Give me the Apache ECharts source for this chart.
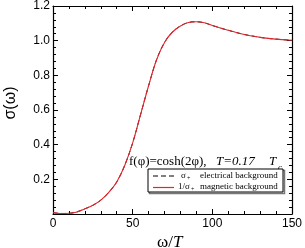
<!DOCTYPE html>
<html><head><meta charset="utf-8">
<script src="https://cdn.jsdelivr.net/npm/echarts@6/dist/echarts.min.js"></script>
<style>html,body{margin:0;padding:0;background:#fff}#c{width:305px;height:248px}</style>
</head><body><div id="c"></div>
<script>
var omega = [0,5,10,15,20,25,30,35,40,45,50,55,60,65,70,75,80,85,90,95,100,105,110,115,120,125,130,135,140,145,150];
var sigmaElectric = [0.008,0.003,0.004,0.012,0.03,0.05,0.08,0.125,0.185,0.28,0.41,0.575,0.74,0.89,0.99,1.05,1.085,1.105,1.109,1.103,1.088,1.073,1.06,1.047,1.036,1.027,1.019,1.013,1.009,1.005,1.002];
var sigmaMagnetic = [0.008,0.003,0.004,0.012,0.03,0.05,0.08,0.125,0.185,0.28,0.41,0.575,0.74,0.89,0.99,1.05,1.085,1.105,1.109,1.103,1.088,1.073,1.06,1.047,1.036,1.027,1.019,1.013,1.009,1.005,1.002];
var xTicks = [0,50,100,150];
var yTicks = [0.2,0.4,0.6,0.8,1.0,1.2];
var seriesNames = ['σ+ electrical background','1/σ+ magnetic background'];

function pairs(xs, ys){ return xs.map(function(x,i){return [x, ys[i]];}); }
var sans = 'Liberation Sans, Arial, sans-serif';
var serif = 'Liberation Serif, Times New Roman, serif';
var tickStyle = {show:true, inside:true, length:5, lineStyle:{color:'#000', width:1}};
var minorStyle = {show:true, splitNumber:5, length:3, lineStyle:{color:'#000', width:1}};
var axLine = {show:true, onZero:false, lineStyle:{color:'#000', width:1.2}};

var chart = echarts.init(document.getElementById('c'), null, {renderer:'canvas'});
chart.setOption({
  animation:false,
  backgroundColor:'#fff',
  grid:{left:53, right:12, top:5, bottom:34},
  xAxis:[{
    type:'value', position:'bottom', min:xTicks[0], max:xTicks[xTicks.length-1], interval:50,
    axisLine:axLine, axisTick:tickStyle, minorTick:minorStyle, splitLine:{show:false},
    axisLabel:{color:'#000', fontFamily:sans, fontSize:12, margin:4,
      formatter:function(v){return xTicks.indexOf(v)>=0 ? String(v) : '';}}
  },{
    type:'value', position:'top', min:0, max:150, interval:50,
    axisLine:axLine, axisTick:tickStyle, minorTick:minorStyle, splitLine:{show:false}, axisLabel:{show:false}
  }],
  yAxis:[{
    type:'value', position:'left', min:0, max:1.2, interval:0.2,
    axisLine:axLine, axisTick:tickStyle, minorTick:minorStyle, splitLine:{show:false},
    axisLabel:{color:'#000', fontFamily:sans, fontSize:12, margin:3,
      formatter:function(v){
        for (var i=0;i<yTicks.length;i++){ if (Math.abs(yTicks[i]-v)<1e-6) return yTicks[i].toFixed(1);} return '';}}
  },{
    type:'value', position:'right', min:0, max:1.2, interval:0.2,
    axisLine:axLine, axisTick:tickStyle, minorTick:minorStyle, splitLine:{show:false}, axisLabel:{show:false}
  }],
  series:[{
    name:seriesNames[0], type:'line', smooth:0.35, symbol:'none', xAxisIndex:0, yAxisIndex:0,
    lineStyle:{color:'#000', width:1, type:[5,3]}, data:pairs(omega, sigmaElectric), z:2
  },{
    name:seriesNames[1], type:'line', smooth:0.35, symbol:'none', xAxisIndex:0, yAxisIndex:0,
    lineStyle:{color:'#e3262b', width:1.1}, data:pairs(omega, sigmaMagnetic), z:3
  }],
  graphic:[
    {type:'text', rotation:Math.PI/2, position:[11,103],
     style:{text:'σ(ω)', font:'16px '+sans, fill:'#000', align:'center', verticalAlign:'middle'}},
    {type:'text', x:157, y:234, style:{text:'ω/', font:'17px '+serif, fill:'#000'}},
    {type:'text', x:173, y:234, style:{text:'T', font:'italic 17px '+serif, fill:'#000'}},
    {type:'text', x:129, y:155, style:{text:'f(φ)=cosh(2φ),', font:'13px '+serif, fill:'#000'}},
    {type:'text', x:216, y:155, style:{text:'T=0.17', font:'italic 13px '+serif, fill:'#000'}},
    {type:'text', x:269, y:155, style:{text:'T', font:'italic 13px '+serif, fill:'#000'}},
    {type:'text', x:278, y:163, style:{text:'c', font:'italic 9px '+serif, fill:'#000'}},
    {type:'rect', shape:{x:149.5, y:170.5, width:135, height:23}, style:{fill:'none', stroke:'#777', lineWidth:1.5}},
    {type:'rect', shape:{x:148, y:169, width:135, height:23}, style:{fill:'#fff', stroke:'#000', lineWidth:1}},
    {type:'line', shape:{x1:153, y1:176, x2:174, y2:176}, style:{stroke:'#000', lineWidth:1, lineDash:[5,3]}},
    {type:'line', shape:{x1:153, y1:187.5, x2:174, y2:187.5}, style:{stroke:'#e3262b', lineWidth:1.2}},
    {type:'text', x:181, y:171, style:{text:'σ', font:'9px '+serif, fill:'#000'}},
    {type:'text', x:187, y:175, style:{text:'+', font:'6px '+serif, fill:'#000'}},
    {type:'text', x:200, y:171, style:{text:'electrical background', font:'9px '+serif, fill:'#000'}},
    {type:'text', x:178, y:182, style:{text:'1/σ', font:'9px '+serif, fill:'#000'}},
    {type:'text', x:191, y:186, style:{text:'+', font:'6px '+serif, fill:'#000'}},
    {type:'text', x:200, y:182, style:{text:'magnetic background', font:'9px '+serif, fill:'#000'}}
  ]
});
</script></body></html>
